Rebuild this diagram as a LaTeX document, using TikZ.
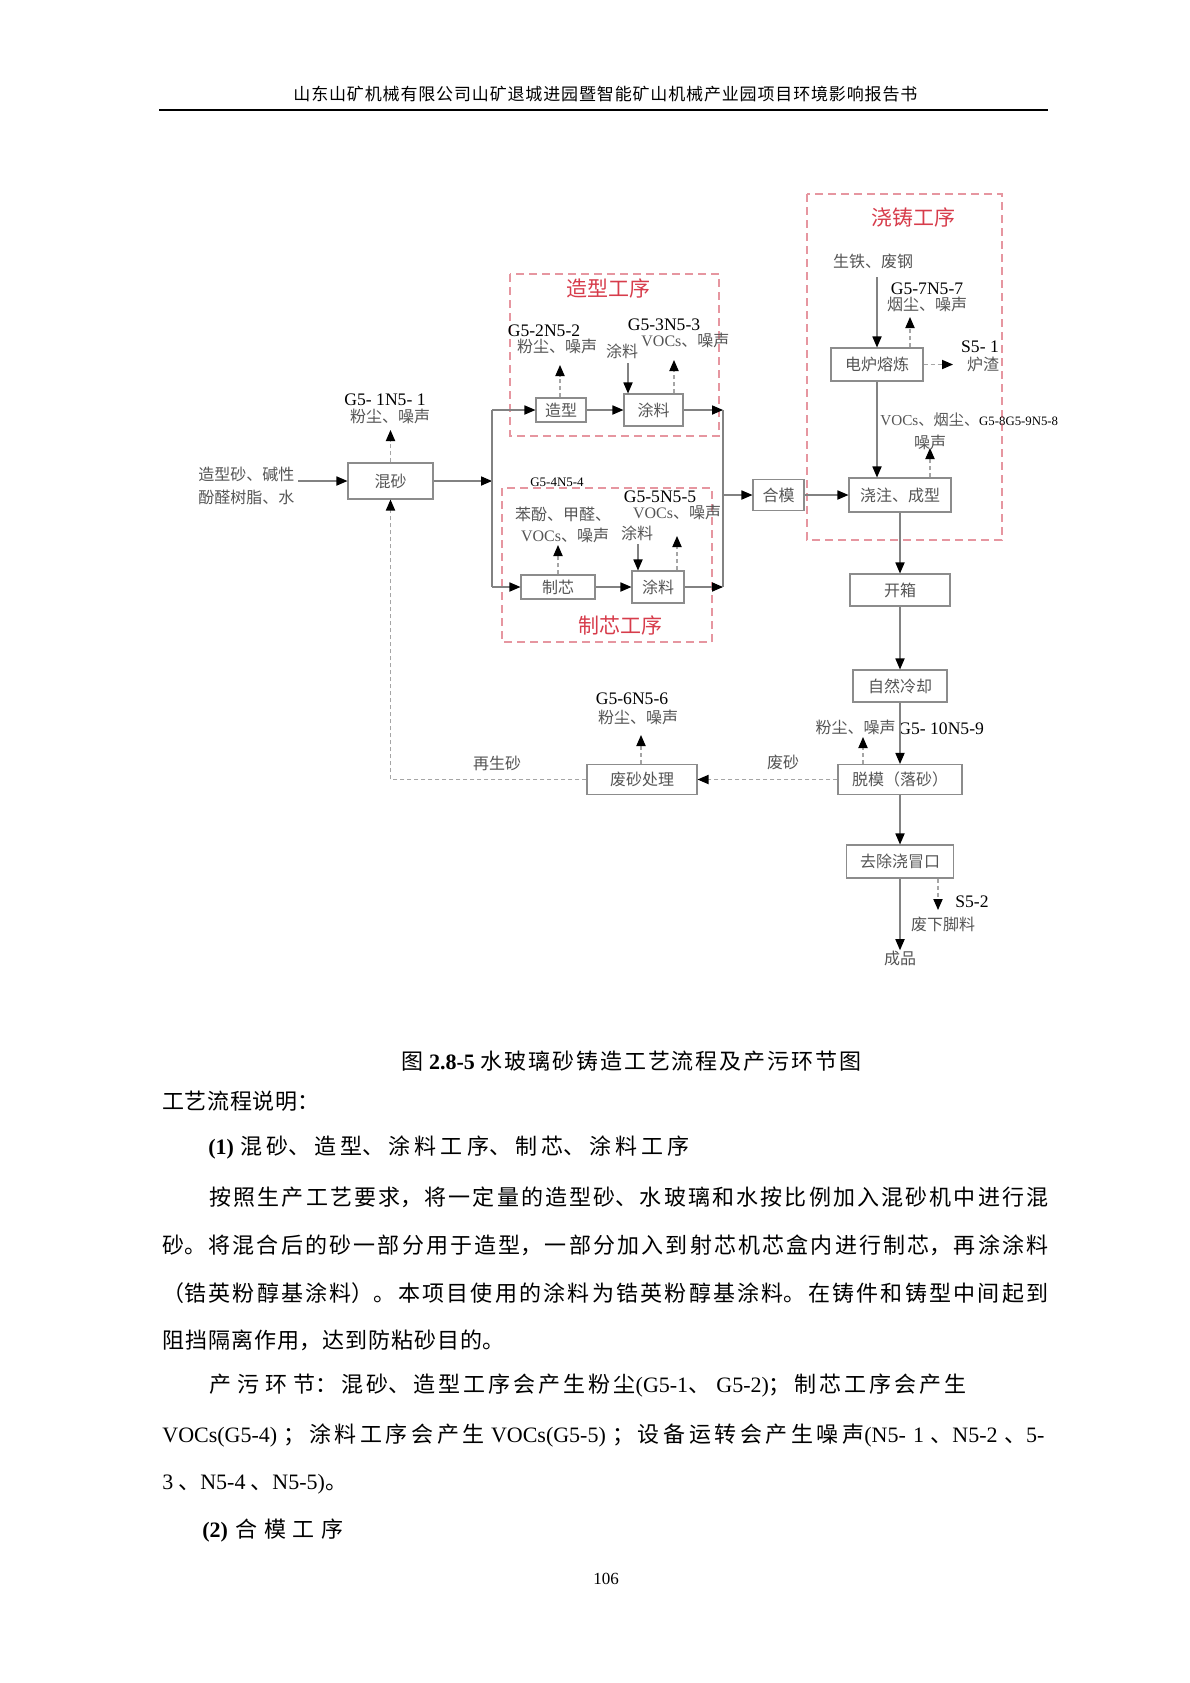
\documentclass[tikz,border=0pt]{standalone}
\usepackage{fontspec}
\setmainfont{Liberation Serif}
\newfontfamily\cjk{Noto Sans CJK SC}
\newfontfamily\lat{Liberation Serif}
\usetikzlibrary{arrows.meta}
\XeTeXlinebreaklocale "zh"
\XeTeXlinebreakskip=0pt plus 3pt minus 0.2pt
\definecolor{boxgray}{RGB}{140,140,140}
\definecolor{linegray}{RGB}{130,130,130}
\definecolor{dashgray}{RGB}{165,165,165}
\definecolor{txtgray}{RGB}{85,85,85}
\definecolor{regionpink}{RGB}{230,150,160}
\definecolor{titlered}{RGB}{215,60,75}
\newcommand{\jl}[2]{\parbox{#1}{\parfillskip=0pt\relax #2}}
\newcommand{\scodefont}{\lat\color{black}\fontsize{6.4bp}{7.5bp}\selectfont}
\tikzset{
  bx/.style={draw=boxgray, line width=0.55bp, fill=white, inner sep=0pt,
    font=\cjk\fontsize{8bp}{9bp}\selectfont, text=txtgray},
  ar/.style={draw=linegray, line width=0.55bp, -{Triangle[length=5.5bp,width=4.6bp,color=black]}},
  da/.style={draw=dashgray, line width=0.6bp, dash pattern=on 2bp off 1.5bp, -{Triangle[length=5.5bp,width=4.6bp,color=black]}},
  ln/.style={draw=linegray, line width=0.55bp},
  region/.style={draw=regionpink, line width=0.6bp, dash pattern=on 4bp off 2.5bp},
  lab/.style={font=\cjk\fontsize{8bp}{9bp}\selectfont, text=txtgray, inner sep=0pt},
  code/.style={font=\lat\fontsize{8.8bp}{10bp}\selectfont, text=black, inner sep=0pt},
  scode/.style={font=\lat\fontsize{6.5bp}{7.5bp}\selectfont, text=black, inner sep=0pt},
  ttl/.style={font=\cjk\fontsize{10.5bp}{12bp}\selectfont, text=titlered, inner sep=0pt},
  body/.style={font=\cjk\fontsize{11bp}{13bp}\selectfont, text=black, inner sep=0pt, anchor=west},
}
\begin{document}
\begin{tikzpicture}[x=0.5bp, y=-0.5bp]
\useasboundingbox (0,0) rectangle (1190,1683);
\fill[white] (0,0) rectangle (1190,1683);

% header
\node[font=\cjk\fontsize{8.5bp}{10bp}\selectfont, inner sep=0pt, anchor=west] (hdr) at (293,94)
  {\jl{312bp}{山东山矿机械有限公司山矿退城进园暨智能矿山机械产业园项目环境影响报告书}};
\draw[line width=1bp] (159,109.5) -- (1048,109.5);

% process regions
\draw[region] (510,274) rectangle (719,436);
\draw[region] (502,488) rectangle (712,642);
\draw[region] (807,194) rectangle (1002,540);
\node[ttl] (t1) at (608,288) {造型工序};
\node[ttl] (t2) at (620,625) {制芯工序};
\node[ttl] (t3) at (913,217) {浇铸工序};

% boxes
\node[bx, minimum width=42.5bp, minimum height=18bp] (hunsha) at (390.5,481) {混砂};
\node[bx, minimum width=25bp, minimum height=12bp] (zaoxing) at (561,410) {造型};
\node[bx, minimum width=29.5bp, minimum height=16bp] (tuliao1) at (653.5,410) {涂料};
\node[bx, minimum width=37bp, minimum height=12bp] (zhixin) at (558,587) {制芯};
\node[bx, minimum width=26bp, minimum height=16bp] (tuliao2) at (658,587) {涂料};
\node[bx, minimum width=25.5bp, minimum height=15.5bp] (hemo) at (778.5,495) {合模};
\node[bx, minimum width=51bp, minimum height=17bp] (jiaozhu) at (900,495) {浇注、成型};
\node[bx, minimum width=46bp, minimum height=16.5bp] (dianlu) at (877,364.5) {电炉熔炼};
\node[bx, minimum width=50bp, minimum height=16bp] (kaixiang) at (900,590) {开箱};
\node[bx, minimum width=47bp, minimum height=16bp] (lengque) at (900,686) {自然冷却};
\node[bx, minimum width=62bp, minimum height=15bp] (tuomo) at (900,779.5) {脱模（落砂）};
\node[bx, minimum width=55bp, minimum height=15bp] (feisha) at (642,779.5) {废砂处理};
\node[bx, minimum width=53.5bp, minimum height=16.5bp] (qu) at (900,861.5) {去除浇冒口};

% labels
\node[lab, anchor=west] (inl1) at (198,474) {造型砂、碱性};
\node[lab, anchor=west] (inl2) at (198,497) {酚醛树脂、水};
\node[code] (c_g1) at (385,400) {G5- 1N5- 1};
\node[lab] (l_g1) at (390,416) {粉尘、噪声};
\node[code] (c_g2) at (544,331) {G5-2N5-2};
\node[lab] (l_g2) at (557,346) {粉尘、噪声};
\node[lab] (l_tl1) at (622,351) {涂料};
\node[code] (c_g3) at (664,325) {G5-3N5-3};
\node[lab, anchor=west] (l_g3) at (641,340) {{\lat VOCs}、噪声};
\node[scode] (c_g4) at (557,482) {G5-4N5-4};
\node[lab] (l_g4a) at (563,514) {苯酚、甲醛、};
\node[lab] (l_g4b) at (565,535) {{\lat VOCs}、噪声};
\node[code] (c_g5) at (660,497) {G5-5N5-5};
\node[lab] (l_g5) at (677,512) {{\lat VOCs}、噪声};
\node[lab] (l_tl2) at (637,533) {涂料};
\node[lab] (l_iron) at (873,261) {生铁、废钢};
\node[code] (c_g7) at (927,289) {G5-7N5-7};
\node[lab] (l_g7) at (927,304) {烟尘、噪声};
\node[code] (c_s1) at (980,347) {S5- 1};
\node[lab] (l_s1) at (983,364) {炉渣};
\node[lab, anchor=west, font=\cjk\fontsize{7.6bp}{9bp}\selectfont] (l_g8) at (880,420) {{\lat VOCs}、烟尘、{\scodefont G5-8G5-9N5-8}};
\node[lab] (l_g8b) at (930,442) {噪声};
\node[code] (c_g6) at (632,699) {G5-6N5-6};
\node[lab] (l_g6) at (638,717) {粉尘、噪声};
\node[lab] (l_zss) at (497,763) {再生砂};
\node[lab] (l_fs) at (783,762) {废砂};
\node[lab, anchor=east] (l_g10) at (896,727) {粉尘、噪声};
\node[code, anchor=west] (c_g10) at (898,729) {G5- 10N5-9};
\node[code, anchor=west] (c_s2) at (955,902) {S5-2};
\node[lab] (l_s2) at (943,924) {废下脚料};
\node[lab] (cp) at (900,958) {成品};

% solid connectors
\coordinate (inA) at (298,481);
\draw[ar] (inA) -- (hunsha.west);
\coordinate (j1) at (492,481);
\coordinate (j1t) at (492,410);
\coordinate (j1b) at (492,587);
\draw[ar] (hunsha.east) -- (j1);
\draw[ln] (j1t) -- (j1b);
\draw[ar] (j1t) -- (zaoxing.west);
\draw[ar] (j1b) -- (zhixin.west);
\draw[ar] (zaoxing.east) -- (tuliao1.west);
\draw[ar] (zhixin.east) -- (tuliao2.west);
\coordinate (j2t) at (723,410);
\coordinate (j2b) at (723,587);
\coordinate (j2m) at (723,495);
\draw[ar] (tuliao1.east) -- (j2t);
\draw[ar] (tuliao2.east) -- (j2b);
\draw[ln] (j2t) -- (j2b);
\draw[ar] (j2m) -- (hemo.west);
\draw[ar] (hemo.east) -- (jiaozhu.west);
\coordinate (iron) at (877,277);
\draw[ar] (iron) -- (dianlu.north);
\draw[ar] (dianlu.south) -- (dianlu.south |- jiaozhu.north);
\draw[ar] (jiaozhu.south) -- (kaixiang.north);
\draw[ar] (kaixiang.south) -- (lengque.north);
\draw[ar] (lengque.south) -- (tuomo.north);
\draw[ar] (tuomo.south) -- (qu.north);
\draw[ar] (qu.south) -- (cp.north);
\coordinate (cin1) at (628,363);
\draw[ar] (cin1) -- (cin1 |- tuliao1.north);
\coordinate (cin2) at (638,544);
\draw[ar] (cin2) -- (cin2 |- tuliao2.north);

% dashed emission connectors
\coordinate (e1) at (390.5,430);
\draw[da] (hunsha.north) -- (e1);
\coordinate (e2) at (560,365);
\draw[da] (e2 |- zaoxing.north) -- (e2);
\coordinate (e3) at (674,360);
\draw[da] (e3 |- tuliao1.north) -- (e3);
\coordinate (e4) at (558,545);
\draw[da] (e4 |- zhixin.north) -- (e4);
\coordinate (e5) at (677,536);
\draw[da] (e5 |- tuliao2.north) -- (e5);
\coordinate (e6) at (910,317);
\draw[da] (e6 |- dianlu.north) -- (e6);
\coordinate (e7) at (953,364.5);
\draw[da] (dianlu.east) -- (e7);
\coordinate (e8) at (930,448);
\draw[da] (e8 |- jiaozhu.north) -- (e8);
\coordinate (e9) at (863,737);
\draw[da] (e9 |- tuomo.north) -- (e9);
\draw[da] (tuomo.west) -- (feisha.east);
\coordinate (e10) at (641,735);
\draw[da] (e10 |- feisha.north) -- (e10);
\coordinate (k) at (390.5,779.5);
\draw[da] (feisha.west) -- (k) -- (hunsha.south);
\coordinate (e11) at (938,910);
\draw[da] (e11 |- qu.south) -- (e11);

% caption and text
\node[body, font=\cjk\fontsize{11bp}{13bp}\selectfont] (cap) at (401,1061)
  {\jl{230bp}{图 {\lat\bfseries 2.8-5} 水玻璃砂铸造工艺流程及产污环节图}};
\node[body] (b1) at (162,1101) {\jl{78.5bp}{工艺流程说明：}};
\node[body] (b2) at (208,1148) {\jl{240.5bp}{{\lat\bfseries (1)} 混砂、造型、涂料工序、制芯、涂料工序}};
\node[body] (b3) at (209,1197) {\jl{419.5bp}{按照生产工艺要求，将一定量的造型砂、水玻璃和水按比例加入混砂机中进行混}};
\node[body] (b4) at (162,1245) {\jl{443bp}{砂。将混合后的砂一部分用于造型，一部分加入到射芯机芯盒内进行制芯，再涂涂料}};
\node[body] (b5) at (162,1293) {\jl{443bp}{（锆英粉醇基涂料）。本项目使用的涂料为锆英粉醇基涂料。在铸件和铸型中间起到}};
\node[body] (b6) at (162,1340) {\jl{171bp}{阻挡隔离作用，达到防粘砂目的。}};
\node[body] (b7) at (209,1386) {\jl{378.5bp}{产 污 环 节：混砂、造型工序会产生粉尘{\lat(G5-1}、 {\lat G5-2)}；制芯工序会产生}};
\node[body] (b8) at (162,1436) {\jl{441bp}{{\lat VOCs(G5-4)} ；涂料工序会产生 {\lat VOCs(G5-5)} ；设备运转会产生噪声{\lat(N5- 1} 、{\lat N5-2} 、{\lat 5-}}};
\node[body] (b9) at (162,1484) {{\lat 3} 、{\lat N5-4} 、{\lat N5-5)}。};
\node[body] (b10) at (202,1531) {\jl{70.5bp}{{\lat\bfseries (2)} 合模工序}};
\node[font=\lat\fontsize{8.5bp}{10bp}\selectfont, inner sep=0pt] (pg) at (606,1579) {106};
\end{tikzpicture}
\end{document}
